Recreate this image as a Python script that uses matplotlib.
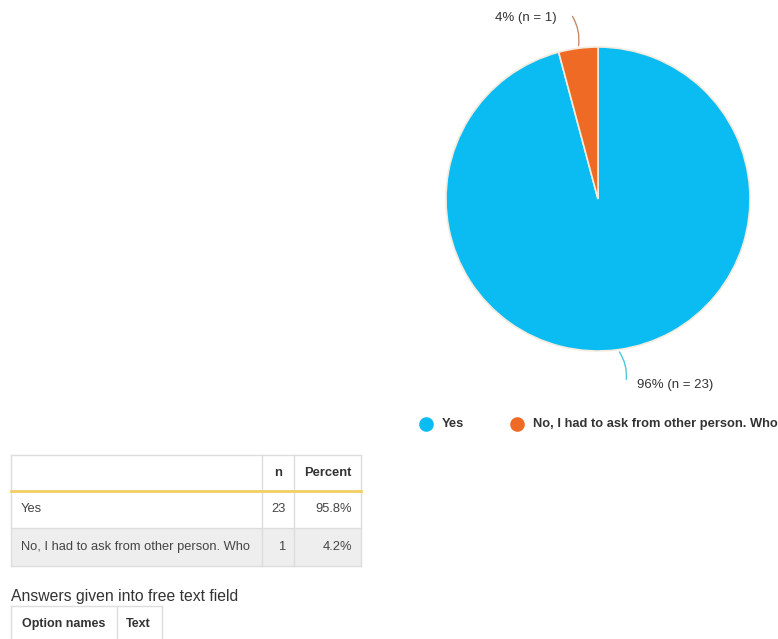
import numpy as np
import matplotlib.pyplot as plt
from matplotlib.patches import Rectangle

plt.rcParams['font.family'] = ['Liberation Sans', 'DejaVu Sans']

# survey answers
options = ['Yes', 'No, I had to ask from other person. Who']
counts = [23, 1]
percents = [95.8, 4.2]
pie_labels = ['96% (n = 23)', '4% (n = 1)']
colors = ['#0BBCF3', '#EF6A24']
line_colors = ['#4CC9D8', '#C98A6A']

W, H = 778, 639
fig = plt.figure(figsize=(W / 100, H / 100), dpi=100)

# background axes in pixel units for tables and captions
bg = fig.add_axes([0, 0, 1, 1])
bg.set_xlim(0, W)
bg.set_ylim(H, 0)
bg.axis('off')

# pie
cx, cy, r = 598, 199, 152
pax = fig.add_axes([(cx - r) / W, (H - cy - r) / H, 2 * r / W, 2 * r / H])
wedges, _ = pax.pie(counts, colors=colors, startangle=90, counterclock=False,
                    radius=1, wedgeprops=dict(edgecolor='#F3EBDD', linewidth=1.2))
pax.set_xlim(-1, 1)
pax.set_ylim(-1, 1)
pax.set_aspect('equal')
pax.axis('off')

# leader labels
label_pos = [(675, 385), (526, 18)]
rad = [0.2, -0.2]
end_off = [(-49, -3), (45, -4)]
for w, lab, (tx, ty), lc, rr, (ox, oy) in zip(wedges, pie_labels, label_pos, line_colors, rad, end_off):
    mid = np.deg2rad((w.theta1 + w.theta2) / 2)
    ax_, ay_ = np.cos(mid), np.sin(mid)
    pax.annotate('', xy=(ax_, ay_), xycoords='data',
                 xytext=(tx + ox, H - (ty + oy)), textcoords='figure pixels',
                 arrowprops=dict(arrowstyle='-', color=lc, lw=1.0,
                                 connectionstyle='arc3,rad=%s' % rr),
                 annotation_clip=False)
    bg.text(tx, ty, lab, ha='center', va='center', fontsize=9.5, color='#333333')

# legend
leg_x = [426, 517]
for x0, name, c in zip(leg_x, options, colors):
    bg.scatter([x0], [424], s=90, color=c, zorder=3)
    bg.text(x0 + 16, 424, name, ha='left', va='center', fontsize=9.3,
            fontweight='bold', color='#333333', clip_on=False)

# result table
tl, tr = 11, 361
c1, c2 = 262, 294
rows_y = [455, 491, 528, 566]
border = '#DDDDDD'
bg.add_patch(Rectangle((tl, rows_y[2]), tr - tl, rows_y[3] - rows_y[2],
                       facecolor='#EEEEEE', edgecolor='none'))
for y in rows_y:
    bg.plot([tl, tr], [y, y], color=border, lw=1)
for x in (tl, c1, c2, tr):
    bg.plot([x, x], [rows_y[0], rows_y[3]], color=border, lw=1)
bg.plot([tl, tr], [rows_y[1], rows_y[1]], color='#F3CF63', lw=2)

ty0 = (rows_y[0] + rows_y[1]) / 2
bg.text((c1 + c2) / 2, ty0, 'n', ha='center', va='center', fontsize=9.3,
        fontweight='bold', color='#333333')
bg.text(tr - 9, ty0, 'Percent', ha='right', va='center', fontsize=9.3,
        fontweight='bold', color='#333333')
for i, (name, n, p) in enumerate(zip(options, counts, percents)):
    yy = (rows_y[i + 1] + rows_y[i + 2]) / 2
    bg.text(tl + 10, yy, name, ha='left', va='center', fontsize=9.3, color='#444444')
    bg.text(c2 - 8, yy, str(n), ha='right', va='center', fontsize=9.3, color='#444444')
    bg.text(tr - 9, yy, '%.1f%%' % p, ha='right', va='center', fontsize=9.3, color='#444444')

# free text table
bg.text(11, 596, 'Answers given into free text field', ha='left', va='center',
        fontsize=11.3, color='#333333')
ft_top = 606
for x in (11, 117, 162):
    bg.plot([x, x], [ft_top, H + 5], color=border, lw=1)
bg.plot([11, 162], [ft_top, ft_top], color=border, lw=1)
bg.text(22, 624, 'Option names', ha='left', va='center', fontsize=9,
        fontweight='bold', color='#333333')
bg.text(126, 624, 'Text', ha='left', va='center', fontsize=9,
        fontweight='bold', color='#333333')

fig.savefig('out.png', dpi=100, facecolor='white')
